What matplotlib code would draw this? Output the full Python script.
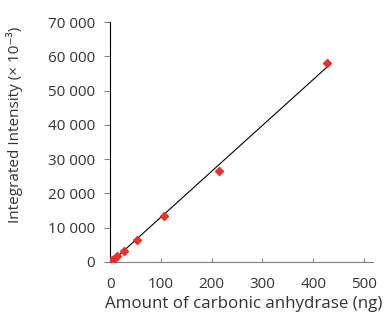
import numpy as np
import matplotlib
matplotlib.use("Agg")
import matplotlib.pyplot as plt

plt.rcParams['font.family'] = ['Open Sans', 'DejaVu Sans']

amount_ng = [0, 1.7, 3.3, 6.7, 13.4, 26.8, 53.5, 107, 214, 428]
intensity = [0, 200, 450, 900, 1700, 3200, 6500, 13500, 26500, 58000]

x_ticks = [0, 100, 200, 300, 400, 500]
x_tick_labels = ['0', '100', '200', '300', '400', '500']
y_ticks = [0, 10000, 20000, 30000, 40000, 50000, 60000, 70000]
y_tick_labels = ['0', '10 000', '20 000', '30 000', '40 000',
                 '50 000', '60 000', '70 000']

fig = plt.figure(figsize=(3.85, 3.19), dpi=100)
ax = fig.add_axes([0.286, 0.179, 0.683, 0.752])

coef = np.polyfit(amount_ng, intensity, 1)
xf = np.array([0, max(amount_ng)])
ax.plot(xf, np.polyval(coef, xf), color='black', lw=0.8, zorder=2)
ax.plot(amount_ng, intensity, linestyle='none', marker='D', ms=4.5,
        color='#e8312a', mec='#e8312a', zorder=3)

ax.set_xlim(0, 518)
ax.set_ylim(0, 70000)
ax.set_xticks(x_ticks)
ax.set_xticklabels(x_tick_labels)
ax.set_yticks(y_ticks)
ax.set_yticklabels(y_tick_labels)

for s in ['top', 'right']:
    ax.spines[s].set_visible(False)
ax.spines['left'].set_color('black')
ax.spines['left'].set_linewidth(0.8)
ax.spines['bottom'].set_color('#808080')
ax.spines['bottom'].set_linewidth(0.8)

ax.tick_params(axis='y', direction='out', length=4, width=0.8, color='#808080',
               labelsize=11, labelcolor='#333333', pad=7)
ax.tick_params(axis='x', direction='in', length=3, width=0.8, color='#808080',
               labelsize=11, labelcolor='#333333', pad=11)

fig.text(244 / 385, 1 - 304 / 319, 'Amount of carbonic anhydrase (ng)',
         fontsize=12.2, color='#333333', ha='center', va='center')
fig.text(15 / 385, 1 - 125 / 319, 'Integrated Intensity (× 10⁻³)',
         fontsize=11, color='#333333', ha='center', va='center', rotation=90)

fig.savefig('out.png', dpi=100)
